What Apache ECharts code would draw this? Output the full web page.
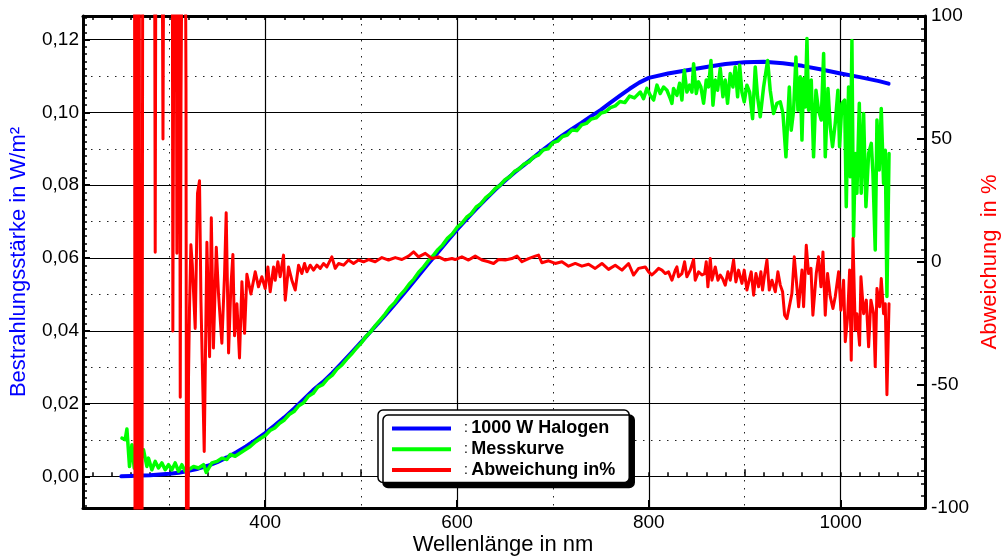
<!DOCTYPE html>
<html>
<head>
<meta charset="utf-8">
<script src="https://cdn.jsdelivr.net/npm/echarts@6/dist/echarts.min.js"></script>
<style>
  html, body { margin: 0; padding: 0; background: #fff; }
  #chart { width: 1002px; height: 559px; }
</style>
</head>
<body>
<div id="chart"></div>
<script>
// Spectral irradiance of a 1000 W halogen lamp (model), measured curve and deviation in %
// Pairs are [wavelength in nm, value]

const halogen = [
  [250,0.0000],[260,0.0001],[270,0.0002],[280,0.0003],[290,0.0005],[300,0.0007],[310,0.0010],
  [320,0.0015],[330,0.0021],[340,0.0029],[350,0.0039],[360,0.0052],[370,0.0066],[380,0.0082],
  [390,0.0100],[400,0.0119],[410,0.0140],[420,0.0162],[430,0.0186],[440,0.0211],[450,0.0237],
  [460,0.0259],[470,0.0284],[480,0.0312],[490,0.0340],[500,0.0369],[510,0.0398],[520,0.0427],
  [530,0.0457],[540,0.0488],[550,0.0520],[560,0.0552],[570,0.0584],[580,0.0615],[590,0.0647],
  [600,0.0678],[610,0.0707],[620,0.0735],[630,0.0762],[640,0.0788],[650,0.0812],[660,0.0835],
  [670,0.0856],[680,0.0877],[690,0.0898],[700,0.0918],[710,0.0937],[720,0.0955],[730,0.0972],
  [740,0.0990],[750,0.1007],[760,0.1027],[770,0.1046],[780,0.1065],[790,0.1082],[800,0.1095],
  [820,0.1107],[840,0.1116],[860,0.1125],[880,0.1133],[900,0.1138],[920,0.1139],[940,0.1135],
  [960,0.1128],[980,0.1118],[1000,0.1107],[1020,0.1097],[1040,0.1086],[1050,0.1079]
];

const messkurve = [
  [250.6,0.0105],[254,0.0101],[255.8,0.0130],[258.5,0.0027],[261,0.0087],[263.4,0.0023],
  [266.2,0.0055],[269.6,0.0037],[273.1,0.0073],[276.6,0.0027],[278.3,0.0050],[281.8,0.0018],
  [285.3,0.0041],[288.7,0.0023],[292.2,0.0037],[295.7,0.0018],[299.2,0.0032],[302.7,0.0018],
  [306.1,0.0037],[309.6,0.0014],[313.1,0.0032],[316.6,0.0014],[320,0.0018],[325.3,0.0027],
  [330.4,0.0023],[335.7,0.0032],[338.5,0.0011],[344.4,0.0037],[349.6,0.0041],[354.8,0.0050],
  [360,0.0046],[363.5,0.0060],[368.7,0.0055],[373.9,0.0064],[379.1,0.0073],[384.4,0.0082],
  [390,0.0095],[395,0.0104],[400,0.0112],[405,0.0126],[410,0.0133],[415,0.0146],[420,0.0155],
  [425,0.0170],[430,0.0178],[435,0.0194],[440,0.0202],[445,0.0220],[450,0.0228],[455,0.0246],
  [460,0.0252],[465,0.0268],[470,0.0278],[475,0.0295],[480,0.0306],[485,0.0322],[490,0.0336],
  [495,0.0352],[500,0.0366],[505,0.0384],[510,0.0397],[515,0.0415],[520,0.0430],[525,0.0446],
  [530,0.0464],[535,0.0477],[540,0.0496],[545,0.0510],[550,0.0528],[555,0.0542],[560,0.0561],
  [565,0.0575],[570,0.0592],[575,0.0606],[580,0.0623],[585,0.0636],[590,0.0654],[595,0.0666],
  [600,0.0684],[605,0.0695],[610,0.0712],[615,0.0722],[620,0.0740],[625,0.0749],[630,0.0766],
  [635,0.0776],[640,0.0791],[645,0.0800],[650,0.0815],[655,0.0823],[660,0.0838],[665,0.0845],
  [670,0.0858],[675,0.0864],[680,0.0878],[685,0.0883],[690,0.0897],[695,0.0900],[700,0.0917],
  [705,0.0921],[710,0.0934],[715,0.0938],[720,0.0952],[725,0.0950],[730,0.0966],[735,0.0970],
  [740,0.0982],[745,0.0985],[750,0.0998],[755,0.1002],[760,0.1013],[765,0.1018],[770,0.1030],
  [775,0.1027],[780,0.1045],[785,0.1040],
  [791.1,0.1056],[794.5,0.1038],[798.0,0.1066],[801.5,0.1047],[805.0,0.1034],[808.5,0.1075],
  [811.9,0.1052],[815.4,0.1070],[818.9,0.1061],[822.4,0.1038],[824.1,0.1025],[825.8,0.1066],
  [829.3,0.1047],[832.1,0.1080],[834.5,0.1034],[837.0,0.1116],[839.7,0.1056],[842.5,0.1075],
  [845.0,0.1056],[846.7,0.1134],[849.5,0.1052],[851.9,0.1084],[854.3,0.1070],[857.1,0.1025],
  [859.9,0.1089],[862.3,0.1070],[864.8,0.1143],[866.9,0.1020],[869.3,0.1089],[871.7,0.1061],
  [874.5,0.1121],[877.3,0.1043],[879.7,0.1089],[882.1,0.1025],[884.9,0.1107],[887.7,0.1070],
  [890.1,0.1125],[892.6,0.1043],[894.7,0.1130],[897.1,0.1056],[899.5,0.1029],[902.3,0.1075],
  [905.1,0.1056],[908.2,0.0983],[911.0,0.1125],[913.4,0.1043],[916.2,0.0988],[919.7,0.1070],
  [923.9,0.1143],[926.6,0.1061],[930.1,0.0997],[933.6,0.1025],[937.1,0.1029],[939.9,0.0997],
  [943.0,0.0878],[946.5,0.1070],[948.5,0.0951],[951.0,0.1006],[953.4,0.1152],[955.5,0.1006],
  [957.9,0.1098],[959.7,0.0924],[961.4,0.1093],[963.1,0.1015],[964.9,0.1203],[966.6,0.1006],
  [969.4,0.1089],[971.8,0.0878],[974.3,0.1061],[977.0,0.1006],[979.8,0.0979],[982.3,0.1162],
  [984.0,0.0878],[986.8,0.1066],[989.2,0.0960],[991.6,0.0906],[994.4,0.0970],[997.2,0.1061],
  [998.9,0.0906],[1001.4,0.1025],[1004.2,0.1034],[1005.9,0.0741],[1008.3,0.1070],[1010.1,0.0823],
  [1011.8,0.1198],[1013.5,0.0659],[1015.3,0.0887],[1017.0,0.0778],[1019.5,0.1025],[1021.5,0.0778],
  [1024.0,0.0997],[1026.4,0.0741],[1029.2,0.0887],[1032.0,0.0915],[1033.7,0.0833],[1036.1,0.0622],
  [1037.9,0.0979],[1040.3,0.0842],[1042.4,0.1011],[1044.8,0.0805],[1046.6,0.0896],[1048.3,0.0494],
  [1050.5,0.0887]
];

const abweichung = [
  [250.6,400],[255,420],[260,300],[263.5,250],[264.4,-180],[266,-150],[266.9,220],[268.5,200],
  [269.3,-160],[271.5,-140],[272.4,180],[278,250],[284.6,150],[285.3,4],[286.1,160],[292.5,140],
  [293.4,50],[294.3,150],[303,180],[303.7,-28],[305,150],[307.2,140],[307.9,3.6],[309.5,160],
  [310.6,150],[311.4,-55],[312.2,67],[313.5,150],[316.6,150],[317.4,70],[318,-150],[319.2,-160],
  [320,-48],[321,-20],[322.5,7],[324,-1.3],[327,-27],[329.4,28],[331.5,33],[333,-16],[336.4,-77],
  [339.2,8],[342,-38.5],[343.8,18],[346,-35],[349,6],[351.3,-13],[354.8,-33],[357.6,-5],[359.3,20],
  [361.8,-37],[364.2,-10],[366.3,3],[368,-30],[370.5,-17],[373.2,-39],[375.7,-8],[378.5,-29],
  [380.9,-5],[385.1,-13],
  [389.6,-4.0],[393.0,-10.1],[396.5,-6.0],[400.0,-10.8],[402.8,-2.0],[405.2,-12.1],[408.7,-2.0],
  [410.4,-7.4],[413.2,0.1],[415.6,-6.0],[419.1,2.8],[420.9,-15.5],[424.3,-2.0],[427.8,-7.4],
  [431.3,-11.4],[434.8,-1.3],[438.2,-4.7],[441.0,-0.6],[443.5,-4.0],[446.9,-1.3],[450.4,-3.3],
  [453.9,-1.3],[457.4,-2.6],[460.8,-0.6],[464.3,-2.0],[469.5,2.1],[473.0,-2.6],[476.5,-0.6],
  [481.7,-1.3],[486.9,0.8],[492.1,-0.6],[497.3,0.8],[502.5,0.1],[507.8,1.0],[514.7,0.1],
  [521.7,1.8],[528.6,0.8],[535.6,1.8],[542.5,1.0],[549.5,2.4],[554.7,4.1],[559.9,2.1],
  [566.9,3.5],[573.8,1.4],[580.8,2.1],[587.7,0.8],[594.7,1.4],[598.1,1.0],
  [605.1,2.1],[612.0,0.8],[619.0,2.4],[626.0,0.8],[632.9,0.1],[638.1,-0.6],[643.3,1.0],
  [650.3,0.8],[657.2,1.4],[662.5,2.4],[667.7,0.1],[674.6,1.4],[681.6,2.4],[685.0,2.8],
  [688.5,-0.3],[695.5,0.5],[702.4,-0.6],[709.4,0.1],[716.3,-1.7],[723.3,-0.6],[730.2,-1.7],
  [737.2,-0.9],[744.1,-2.6],[751.1,-0.6],[758.0,-3.0],[765.0,-1.3],[772.0,-3.3],[778.9,-0.6],
  [784.1,-5.3],[789.3,-2.6],[796.3,-2.0],
  [799.8,-4.0],[803.2,-5.3],[806.7,-4.0],[810.2,-2.6],[813.7,-3.3],[817.1,-4.7],[820.6,-4.0],
  [824.1,-7.4],[827.6,-3.3],[829.3,-2.0],[831.0,-6.0],[834.5,-4.7],[837.3,0.1],[839.7,-6.0],
  [843.2,-3.3],[846.7,1.0],[848.4,-7.4],[851.9,-4.0],[855.4,-5.3],[858.2,-4.7],[859.9,0.1],
  [861.6,-10.1],[864.1,1.4],[865.8,-7.4],[869.3,-2.0],[872.1,-7.4],[874.5,-5.3],[876.9,-6.7],
  [879.7,-9.4],[882.5,-4.0],[884.9,-7.4],[888.4,0.8],[890.8,-8.1],[893.6,-3.3],[897.1,-8.7],
  [899.5,-3.3],[902.3,-11.4],[904.7,-7.4],[906.8,-4.0],[909.3,-13.5],[911.7,-4.7],[914.5,-10.1],
  [916.9,-4.0],[918.6,-11.4],[920.7,-5.3],[923.2,0.8],[925.6,-11.4],[928.4,-7.4],[931.9,-12.1],
  [934.6,-4.0],[937.1,-9.4],[939.5,-12.1],[941.6,-21.6],[944.0,-23.0],[946.5,-18.2],[949.2,-12.8],
  [951.7,2.1],[952.7,2.8],[956.2,-18.2],[959.7,-3.3],[961.4,-18.2],[964.2,6.8],[966.6,-4.7],
  [969.1,-2.6],[971.1,-21.6],[974.6,-4.7],[977.0,2.1],[979.5,-10.1],[981.6,4.1],[984.0,-21.6],
  [986.4,-4.7],[989.2,-14.1],[992.0,-18.9],[994.4,-14.1],[997.9,-4.0],[1000.3,-19.6],[1003.1,-7.4],
  [1004.9,-32.4],[1007.3,-22.3],[1009.4,-3.3],[1011.1,-39.9],[1012.9,9.6],[1015.3,-27.7],
  [1017.0,-21.0],[1019.8,-33.8],[1021.2,-6.0],[1024.0,-21.0],[1026.8,-15.5],[1029.2,-34.5],
  [1031.6,-15.5],[1034.4,-21.0],[1036.1,-42.6],[1037.9,-10.8],[1040.7,-18.2],[1042.4,-6.7],
  [1044.8,-21.0],[1046.6,-17.0],[1048.3,-54.0],[1050.5,-17.0]
];

// Axis ranges and tick positions
const xRange = [210, 1088];
const xLabelTicks = [400, 600, 800, 1000];
const xDottedTicks = [300, 500, 700, 900];
const xMinorTicks = [];
for (let v = 220; v <= 1080; v += 20) xMinorTicks.push(v);

const leftRange = [-0.0087, 0.1265];
const leftLabelTicks = [0, 0.02, 0.04, 0.06, 0.08, 0.10, 0.12];
const leftDottedTicks = [0.01, 0.03, 0.05, 0.07, 0.09, 0.11];
const leftMinorTicks = [];
for (let i = -4; i <= 63; i++) leftMinorTicks.push(+(i * 0.002).toFixed(3));

const rightRange = [-100, 100];

const FONT = '"Liberation Sans", Arial, sans-serif';
const black = '#000';
const dotted = { color: '#222', width: 1, type: [1.5, 6.5] };
const solid = { color: black, width: 1.2 };

function hiddenLine() { return { show: false }; }

const chart = echarts.init(document.getElementById('chart'), null, { renderer: 'canvas' });

chart.setOption({
  animation: false,
  backgroundColor: '#fff',
  grid: { left: 83, right: 77, top: 16, bottom: 51, containLabel: false, outerBoundsMode: 'none' },
  xAxis: [
    { // labelled axis with solid grid
      type: 'value', position: 'bottom', min: xRange[0], max: xRange[1],
      axisLine: { show: true, onZero: false, lineStyle: { color: black, width: 3 } },
      axisTick: { show: true, inside: true, length: 8, customValues: xLabelTicks, lineStyle: { color: black, width: 2 } },
      axisLabel: { show: true, customValues: xLabelTicks, margin: 5, color: black, fontSize: 19, fontFamily: FONT,
        formatter: v => String(v) },
      splitLine: { show: true, lineStyle: solid }
    },
    { // dotted grid at the odd hundreds
      type: 'value', position: 'bottom', min: xRange[0], max: xRange[1],
      axisLine: hiddenLine(),
      axisTick: { show: true, inside: true, length: 7, customValues: xDottedTicks, lineStyle: { color: black, width: 1.5 } },
      axisLabel: { show: false },
      splitLine: { show: true, lineStyle: dotted }
    },
    { // minor ticks along the bottom
      type: 'value', position: 'bottom', min: xRange[0], max: xRange[1],
      axisLine: hiddenLine(),
      axisTick: { show: true, inside: true, length: 4, customValues: xMinorTicks, lineStyle: { color: black, width: 1.5 } },
      axisLabel: { show: false }, splitLine: { show: false }
    },
    { // top frame edge
      type: 'value', position: 'top', min: xRange[0], max: xRange[1],
      axisLine: { show: true, onZero: false, lineStyle: { color: black, width: 3 } },
      axisTick: { show: true, inside: true, length: 4, customValues: xMinorTicks, lineStyle: { color: black, width: 1.5 } },
      axisLabel: { show: false }, splitLine: { show: false }
    }
  ],
  yAxis: [
    { // left labelled axis, irradiance
      type: 'value', position: 'left', min: leftRange[0], max: leftRange[1],
      axisLine: { show: true, onZero: false, lineStyle: { color: black, width: 3 } },
      axisTick: { show: true, inside: true, length: 7, customValues: leftLabelTicks, lineStyle: { color: black, width: 2 } },
      axisLabel: {
        show: true, customValues: leftLabelTicks, margin: 4, color: black, fontSize: 19, fontFamily: FONT,
        formatter: v => v.toFixed(2).replace('.', ',')
      },
      splitLine: { show: true, lineStyle: solid }
    },
    { // dotted grid between the labelled values
      type: 'value', position: 'left', min: leftRange[0], max: leftRange[1],
      axisLine: hiddenLine(),
      axisTick: { show: true, inside: true, length: 4, customValues: leftDottedTicks, lineStyle: { color: black, width: 1.5 } },
      axisLabel: { show: false },
      splitLine: { show: true, lineStyle: dotted }
    },
    { // minor ticks on the left edge
      type: 'value', position: 'left', min: leftRange[0], max: leftRange[1],
      axisLine: hiddenLine(),
      axisTick: { show: true, inside: true, length: 4, customValues: leftMinorTicks, lineStyle: { color: black, width: 1.5 } },
      axisLabel: { show: false }, splitLine: { show: false }
    },
    { // right axis, deviation in %
      type: 'value', position: 'right', min: rightRange[0], max: rightRange[1], interval: 50,
      axisLine: { show: true, onZero: false, lineStyle: { color: black, width: 3 } },
      axisTick: { show: true, inside: true, length: 8, lineStyle: { color: black, width: 2 } },
      minorTick: { show: true, splitNumber: 10, length: 4, lineStyle: { color: black, width: 1.5 } },
      axisLabel: { show: true, margin: 6, color: black, fontSize: 19, fontFamily: FONT },
      splitLine: { show: false }
    }
  ],
  legend: {
    orient: 'vertical', left: 378, top: 410,
    padding: [8, 14, 2, 14], itemGap: 0,
    itemWidth: 59, itemHeight: 4, icon: 'rect',
    backgroundColor: '#fff', borderColor: black, borderWidth: 1.5, borderRadius: 5,
    shadowColor: black, shadowBlur: 0, shadowOffsetX: 5, shadowOffsetY: 5,
    selectedMode: false,
    data: ['1000 W Halogen', 'Messkurve', 'Abweichung in%'],
    formatter: name => '{c|:} {b|' + name + '}',
    textStyle: {
      color: black, fontFamily: FONT, lineHeight: 20.8,
      rich: {
        c: { fontSize: 14, fontFamily: FONT, color: black, padding: [0, 0, 0, 8], lineHeight: 20.8 },
        b: { fontSize: 18, fontWeight: 'bold', fontFamily: FONT, color: black, lineHeight: 20.8 }
      }
    }
  },
  graphic: [
    { type: 'text', x: 503, y: 545, z: 10,
      style: { text: 'Wellenlänge in nm', fontSize: 22, fontFamily: FONT, fill: black, align: 'center', verticalAlign: 'middle' } },
    { type: 'text', x: 19, y: 262, rotation: Math.PI / 2, z: 10,
      style: { text: 'Bestrahlungsstärke in W/m²', fontSize: 22, fontFamily: FONT, fill: '#0000ff', align: 'center', verticalAlign: 'middle' } },
    { type: 'text', x: 990, y: 262, rotation: Math.PI / 2, z: 10,
      style: { text: 'Abweichung  in %', fontSize: 22, fontFamily: FONT, fill: '#ff0000', align: 'center', verticalAlign: 'middle' } }
  ],
  series: [
    { name: '1000 W Halogen', type: 'line', xAxisIndex: 0, yAxisIndex: 0, data: halogen,
      showSymbol: false, symbol: 'none', color: '#0000ff',
      lineStyle: { color: '#0000ff', width: 4, join: 'round', cap: 'round' } },
    { name: 'Messkurve', type: 'line', xAxisIndex: 0, yAxisIndex: 0, data: messkurve,
      showSymbol: false, symbol: 'none', color: '#00ff00',
      lineStyle: { color: '#00ff00', width: 3.5, join: 'round', cap: 'round' } },
    { name: 'Abweichung in%', type: 'line', xAxisIndex: 0, yAxisIndex: 3, data: abweichung,
      showSymbol: false, symbol: 'none', color: '#ff0000',
      lineStyle: { color: '#ff0000', width: 3, join: 'round', cap: 'round' } }
  ]
});
</script>
</body>
</html>
